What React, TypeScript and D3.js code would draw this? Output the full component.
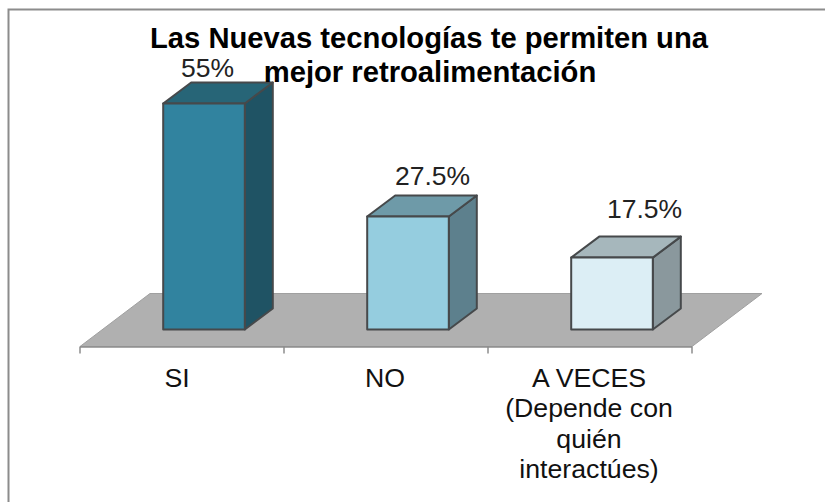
import React from "react";
import * as d3 from "d3";

const categories = ["SI", "NO", "A VECES"];
const categoryLines = [["SI"], ["NO"], ["A VECES", "(Depende con", "quién", "interactúes)"]];
const values = [55, 27.5, 17.5];
const valueLabels = ["55%", "27.5%", "17.5%"];
const frontColors = ["#31839F", "#95CDDF", "#DCEEF5"];
const sideColors = ["#1F5364", "#5D808D", "#8A989D"];
const topColors = ["#276577", "#6E9AA8", "#A6B7BC"];
const titleLines = ["Las Nuevas tecnologías te permiten una", "mejor retroalimentación"];

const W = 825;
const H = 502;
const depthX = 28;
const depthY = 21;
const floorDX = 70;
const floorDY = 53;

export default function App() {
  const x = d3.scaleBand<string>().domain(categories).range([80, 692]).paddingInner(0.6).paddingOuter(0.3);
  const y = d3.scaleLinear().domain([0, 55]).range([329.5, 103.5]);
  const floorY = 346.5;
  const floorPath = d3.path();
  floorPath.moveTo(80, floorY);
  floorPath.lineTo(80 + floorDX, floorY - floorDY);
  floorPath.lineTo(692 + floorDX, floorY - floorDY);
  floorPath.lineTo(692, floorY);
  floorPath.closePath();
  const step = x.step();
  const tickXs = [0, 1, 2, 3].map((i) => 80 + i * step);
  const font = "'Liberation Sans', Arial, sans-serif";
  return (
    <svg width={W} height={H} style={{ position: "absolute", left: 0, top: 0, background: "#fff" }}>
      <rect x={8.5} y={9.5} width={840} height={520} fill="#fff" stroke="#8c8c8c" strokeWidth={2} />
      <path d={floorPath.toString()} fill="#B0B0B0" stroke="#a0a0a0" strokeWidth={1} />
      <line x1={80} x2={692} y1={floorY + 0.5} y2={floorY + 0.5} stroke="#8c8c8c" strokeWidth={1.5} />
      {tickXs.map((t) => (
        <line key={t} x1={t} x2={t} y1={floorY} y2={floorY + 7} stroke="#8c8c8c" strokeWidth={1.5} />
      ))}
      {categories.map((c, i) => {
        const x0 = 22 + x(c)!;
        const bw = x.bandwidth();
        const x1 = x0 + bw;
        const top = y(values[i]);
        const base = y(0);
        const side = d3.line()([[x1, top], [x1 + depthX, top - depthY], [x1 + depthX, base - depthY], [x1, base]]) + "Z";
        const topFace = d3.line()([[x0, top], [x0 + depthX, top - depthY], [x1 + depthX, top - depthY], [x1, top]]) + "Z";
        return (
          <g key={c} stroke="#46494b" strokeWidth={2} strokeLinejoin="round">
            <path d={side} fill={sideColors[i]} />
            <path d={topFace} fill={topColors[i]} />
            <rect x={x0} y={top} width={bw} height={base - top} fill={frontColors[i]} />
          </g>
        );
      })}
      <g fontFamily={font} fontSize={26.5} fill="#222">
        <text x={207.5} y={77} textAnchor="middle">{valueLabels[0]}</text>
        <text x={432.5} y={185} textAnchor="middle">{valueLabels[1]}</text>
        <text x={644.5} y={218} textAnchor="middle">{valueLabels[2]}</text>
      </g>
      <g fontFamily={font} fontSize={29.2} fontWeight="bold" fill="#000" textAnchor="middle">
        <text x={429} y={48}>{titleLines[0]}</text>
        <text x={430} y={82}>{titleLines[1]}</text>
      </g>
      <g fontFamily={font} fontSize={26.7} fill="#111" textAnchor="middle">
        {categories.map((c, i) =>
          categoryLines[i].map((ln, j) => (
            <text key={c + j} x={[177, 385, 589][i]} y={387 + j * 30.4}>{ln}</text>
          ))
        )}
      </g>
    </svg>
  );
}
